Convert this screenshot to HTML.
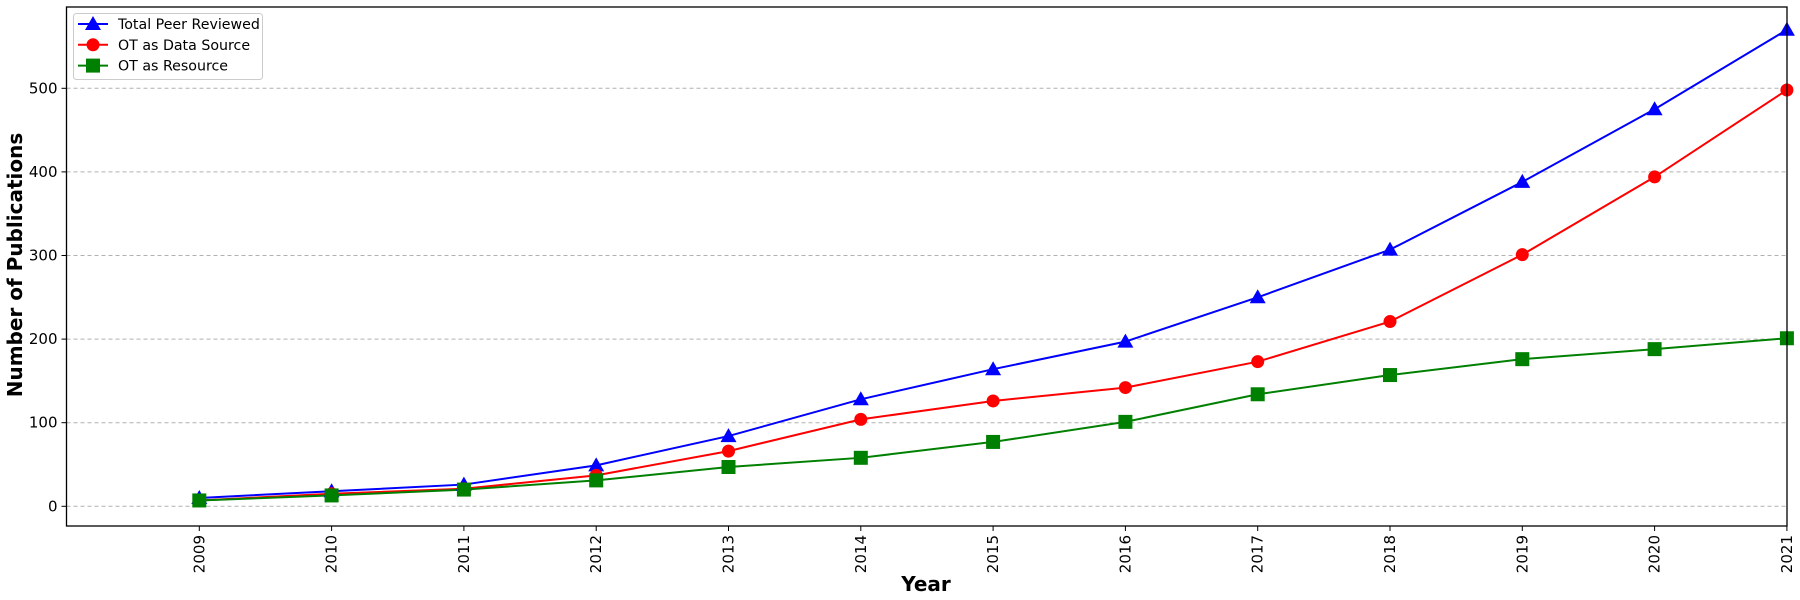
<!DOCTYPE html>
<html><head><meta charset="utf-8"><style>
html,body{margin:0;padding:0;background:#fff;width:1800px;height:600px;overflow:hidden}
text{font-family:"DejaVu Sans","Liberation Sans",sans-serif}
</style></head><body>
<svg id="s" width="1800" height="600" xmlns="http://www.w3.org/2000/svg"></svg>
<script>
const s=document.getElementById('s');
const L=66.5,R=1787,T=7,B=526;
const X=y=>199.3+(y-2009)*132.3;
const Y=v=>506.3-v*0.836;
let h='';
for(let v=0;v<=500;v+=100){h+=`<line x1="${L}" x2="${R}" y1="${Y(v)}" y2="${Y(v)}" stroke="#b0b0b0" stroke-width="1" stroke-dasharray="4,3"/>`;
h+=`<line x1="${L-5}" x2="${L}" y1="${Y(v)}" y2="${Y(v)}" stroke="#000"/>`;
h+=`<text x="${L-9}" y="${Y(v)+5}" font-size="15" text-anchor="end">${v}</text>`;}
for(let y=2009;y<=2021;y++){h+=`<line x1="${X(y)}" x2="${X(y)}" y1="${B}" y2="${B+5}" stroke="#000"/>`;
h+=`<text transform="translate(${X(y)+5},${B+9}) rotate(-90)" font-size="15" text-anchor="end">${y}</text>`;}
const tot=[10,18,26,49,84,128,164,197,250,307,388,475,570];
const ds=[7,15,21,37,66,104,126,142,173,221,301,394,498];
const rs=[7,13,20,31,47,58,77,101,134,157,176,188,201];
function line(d,c){return `<polyline fill="none" stroke="${c}" stroke-width="2" points="${d.map((v,i)=>X(2009+i)+','+Y(v)).join(' ')}"/>`;}
function tri(x,y,c){return `<polygon points="${x},${y-8} ${x-8},${y+6} ${x+8},${y+6}" fill="${c}"/>`;}
function circ(x,y,c){return `<circle cx="${x}" cy="${y}" r="6.5" fill="${c}"/>`;}
function sq(x,y,c){return `<rect x="${x-7}" y="${y-7}" width="14" height="14" fill="${c}"/>`;}
h+=`<defs><clipPath id="c"><rect x="${L-10}" y="${T}" width="${R-L+20}" height="${B-T}"/></clipPath></defs>`;
h+=`<g clip-path="url(#c)">`;
h+=line(tot,'#0000ff')+line(ds,'#ff0000')+line(rs,'#008000');
tot.forEach((v,i)=>h+=tri(X(2009+i),Y(v),'#0000ff'));
ds.forEach((v,i)=>h+=circ(X(2009+i),Y(v),'#ff0000'));
rs.forEach((v,i)=>h+=sq(X(2009+i),Y(v),'#008000'));
h+=`</g>`;
h+=`<rect x="${L}" y="${T}" width="${R-L}" height="${B-T}" fill="none" stroke="#000" stroke-width="1.3"/>`;
h+=`<rect x="73.5" y="13.5" width="189" height="66" rx="3" fill="#fff" fill-opacity="0.8" stroke="#ccc"/>`;
const lg=[['Total Peer Reviewed','#0000ff',tri],['OT as Data Source','#ff0000',circ],['OT as Resource','#008000',sq]];
lg.forEach((e,i)=>{const y=24+i*20.8;h+=`<line x1="78" x2="108" y1="${y}" y2="${y}" stroke="${e[1]}" stroke-width="2"/>`+e[2](93,y,e[1])+`<text x="118" y="${y+5}" font-size="14.2">${e[0]}</text>`;});
h+=`<text x="926" y="591" font-size="20" font-weight="bold" text-anchor="middle">Year</text>`;
h+=`<text transform="translate(22,265) rotate(-90)" font-size="20" font-weight="bold" text-anchor="middle">Number of Publications</text>`;
s.innerHTML=h;
</script>
</body></html>
